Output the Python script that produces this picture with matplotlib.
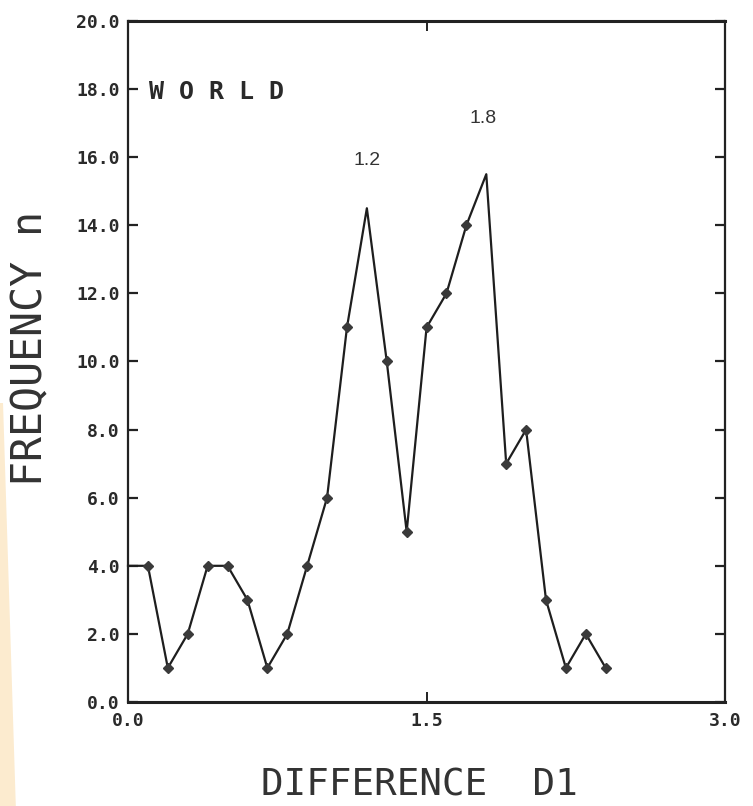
import matplotlib.pyplot as plt
from matplotlib.patches import Polygon

# Frequency of D1 differences, binned every 0.1
d1 = [0.0, 0.1, 0.2, 0.3, 0.4, 0.5, 0.6, 0.7, 0.8, 0.9, 1.0, 1.1, 1.2,
      1.3, 1.4, 1.5, 1.6, 1.7, 1.8, 1.9, 2.0, 2.1, 2.2, 2.3, 2.4]
freq = [4, 4, 1, 2, 4, 4, 3, 1, 2, 4, 6, 11, 14.5,
        10, 5, 11, 12, 14, 15.5, 7, 8, 3, 1, 2, 1]
peaks = [(1.2, "1.2"), (1.8, "1.8")]
yticks = [0, 2, 4, 6, 8, 10, 12, 14, 16, 18, 20]
xticks = [0.0, 1.5, 3.0]

fig = plt.figure(figsize=(7.53, 8.06), dpi=100)

# yellowed paper edge on the left
fig.patches.append(Polygon([(0, 0), (0.021, 0), (0.004, 0.50), (0, 0.50)],
                           closed=True, transform=fig.transFigure,
                           facecolor="#fcebcf", edgecolor="none", zorder=0))

ax = fig.add_axes([0.170, 0.129, 0.793, 0.845])

# no markers at the first point (sits on the axis) or at the two peak tips
marked = [i for i, x in enumerate(d1) if x != 0.0 and x not in (p[0] for p in peaks)]
ax.plot(d1, freq, color="#1e1e1e", lw=1.6, marker="D", ms=5.5,
        mfc="#3a3a3a", mec="#3a3a3a", markevery=marked, clip_on=False)

ax.set_xlim(0, 3.0)
ax.set_ylim(0, 20)
ax.set_xticks(xticks)
ax.set_yticks(yticks)
ax.set_xticklabels([f"{v:.1f}" for v in xticks])
ax.set_yticklabels([f"{v:.1f}" for v in yticks])

tick_font = dict(family="DejaVu Sans Mono", weight="bold", size=13)
for lab in ax.get_xticklabels() + ax.get_yticklabels():
    lab.set_fontproperties(tick_font)
    lab.set_color("#2a2a2a")

ax.tick_params(axis="y", direction="in", length=7, width=1.6,
               right=True, pad=6, colors="#222222", labelcolor="#2a2a2a")
ax.tick_params(axis="x", direction="in", length=7, width=1.4,
               top=True, pad=7, colors="#222222", labelcolor="#2a2a2a")

for side in ["top", "bottom"]:
    ax.spines[side].set_linewidth(2.2)
for side in ["left", "right"]:
    ax.spines[side].set_linewidth(1.6)
for sp in ax.spines.values():
    sp.set_color("#222222")

ax.text(0.035, 17.9, "W O R L D", family="DejaVu Sans Mono", weight="bold",
        fontsize=18, color="#2a2a2a", va="center", ha="left",
        transform=ax.get_yaxis_transform())

# peak positions written above each maximum
for (x, txt), dy in zip(peaks, [1.4, 1.65]):
    y = freq[d1.index(x)]
    ax.text(x - 0.015 * (txt == "1.8"), y + dy, txt, family="Liberation Sans",
            fontsize=14, color="#333333", ha="center", va="center")

fig.text(0.557, 0.026, "DIFFERENCE  D1", family="DejaVu Sans Mono",
         fontsize=27, color="#333333", ha="center", va="center")
fig.text(0.040, 0.567, "FREQUENCY n", family="DejaVu Sans Mono",
         fontsize=30, color="#333333", ha="center", va="center", rotation=90)

fig.savefig("out.png", dpi=100, facecolor="white")
